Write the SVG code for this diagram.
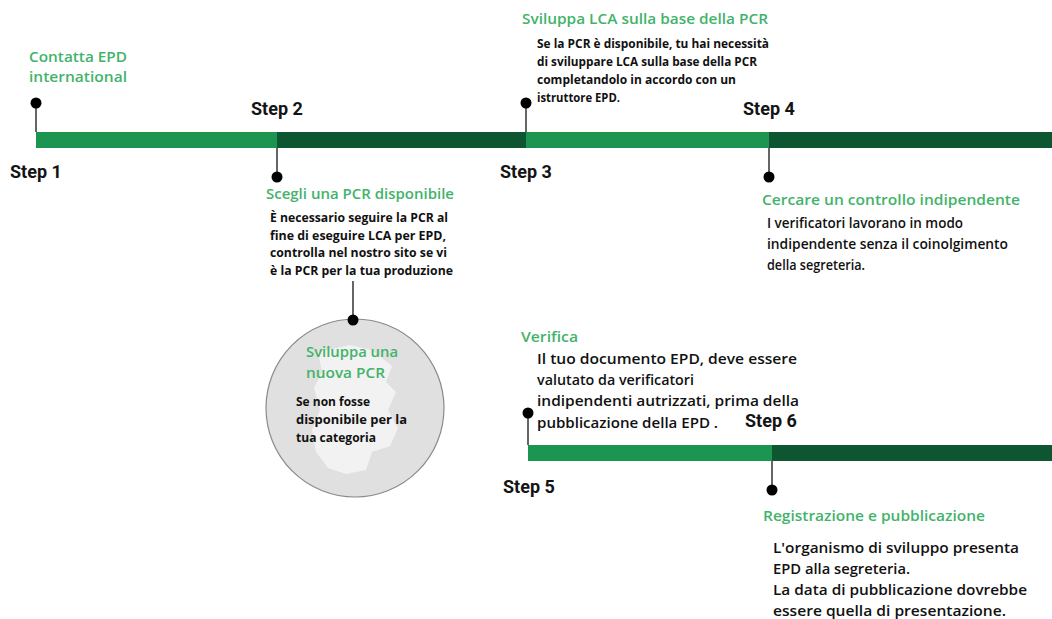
<svg xmlns="http://www.w3.org/2000/svg" width="1052" height="619" viewBox="0 0 1052 619">
<style>
.step{font-family:Roboto,"Liberation Sans",sans-serif;font-weight:700;font-size:18px;fill:#141414}
.head{font-family:"Open Sans","Liberation Sans",sans-serif;font-weight:600;font-size:14px;fill:#42b36a}
.body{font-family:"Open Sans","Liberation Sans",sans-serif;font-weight:700;font-size:12px;fill:#111}
.bodyL{font-family:"Open Sans","Liberation Sans",sans-serif;font-weight:600;font-size:14.5px;fill:#111}
.light{fill:#1b9550}
.dark{fill:#0e5531}
.stem{stroke:#333;stroke-width:1.5}
.dot{fill:#000}
</style>
<rect width="1052" height="619" fill="#fff"/>
<g id="timeline">
<rect class="light" x="36" y="132" width="241" height="16"/>
<rect class="dark" x="277" y="132" width="249" height="16"/>
<rect class="light" x="526" y="132" width="243" height="16"/>
<rect class="dark" x="769" y="132" width="283" height="16"/>
<rect class="light" x="528" y="445" width="244" height="16"/>
<rect class="dark" x="772" y="445" width="280" height="16"/>
</g>
<g id="connectors">
<line class="stem" x1="36" y1="103" x2="36" y2="132"/>
<circle class="dot" cx="36" cy="103" r="5.5"/>
<line class="stem" x1="277" y1="148" x2="277" y2="177"/>
<circle class="dot" cx="277" cy="177" r="5.5"/>
<line class="stem" x1="526" y1="103" x2="526" y2="132"/>
<circle class="dot" cx="526" cy="103" r="5.5"/>
<line class="stem" x1="769" y1="148" x2="769" y2="177"/>
<circle class="dot" cx="769" cy="177" r="5.5"/>
<line class="stem" x1="353" y1="281" x2="353" y2="320"/>
<line class="stem" x1="528" y1="413" x2="528" y2="445"/>
<circle class="dot" cx="528" cy="413" r="5.5"/>
<line class="stem" x1="772" y1="461" x2="772" y2="490"/>
<circle class="dot" cx="772" cy="490" r="5.5"/>
</g>
<g id="step1">
<text class="head" x="29" y="62" textLength="98" lengthAdjust="spacingAndGlyphs">Contatta EPD</text>
<text class="head" x="29" y="82" textLength="98" lengthAdjust="spacingAndGlyphs">international</text>
<text class="step" x="10" y="178">Step 1</text>
</g>
<g id="step2">
<text class="step" x="251" y="115">Step 2</text>
<text class="head" x="266" y="199" textLength="188" lengthAdjust="spacingAndGlyphs">Scegli una PCR disponibile</text>
<text class="body" x="270" y="222" textLength="178" lengthAdjust="spacingAndGlyphs">È necessario seguire la PCR al</text>
<text class="body" x="270" y="240" textLength="176" lengthAdjust="spacingAndGlyphs">fine di eseguire LCA per EPD,</text>
<text class="body" x="270" y="257" textLength="177" lengthAdjust="spacingAndGlyphs">controlla nel nostro sito se vi</text>
<text class="body" x="270" y="275" textLength="183" lengthAdjust="spacingAndGlyphs">è la PCR per la tua produzione</text>
</g>
<g id="new-pcr">
<circle cx="355" cy="408" r="89" fill="#e0e0e0" stroke="#8a8a8a" stroke-width="1.2"/>
<path d="M318 352 L350 345 L372 350 L392 366 L386 382 L396 392 L388 410 L398 428 L390 446 L372 452 L366 470 L346 474 L328 468 L316 452 L312 430 L320 410 L314 388 L322 372 Z" fill="#f6f6f6" opacity="0.8"/>
<circle class="dot" cx="353" cy="320" r="5.5"/>
<text class="head" x="306" y="357" textLength="92" lengthAdjust="spacingAndGlyphs">Sviluppa una</text>
<text class="head" x="306" y="378" textLength="79" lengthAdjust="spacingAndGlyphs">nuova PCR</text>
<text class="body" x="296" y="406" textLength="74" lengthAdjust="spacingAndGlyphs">Se non fosse</text>
<text class="body" x="296" y="424" textLength="111" lengthAdjust="spacingAndGlyphs">disponibile per la</text>
<text class="body" x="296" y="442" textLength="80" lengthAdjust="spacingAndGlyphs">tua categoria</text>
</g>
<g id="step3">
<text class="step" x="500" y="178">Step 3</text>
<text class="head" x="522" y="24" textLength="246" lengthAdjust="spacingAndGlyphs">Sviluppa LCA sulla base della PCR</text>
<text class="body" x="537" y="48" textLength="232" lengthAdjust="spacingAndGlyphs">Se la PCR è disponibile, tu hai necessità</text>
<text class="body" x="537" y="66" textLength="220" lengthAdjust="spacingAndGlyphs">di sviluppare LCA sulla base della PCR</text>
<text class="body" x="537" y="84" textLength="199" lengthAdjust="spacingAndGlyphs">completandolo in accordo con un</text>
<text class="body" x="537" y="102" textLength="83" lengthAdjust="spacingAndGlyphs">istruttore EPD.</text>
</g>
<g id="step4">
<text class="step" x="743" y="115">Step 4</text>
<text class="head" x="762" y="205" textLength="258" lengthAdjust="spacingAndGlyphs">Cercare un controllo indipendente</text>
<text class="bodyL" x="767" y="228" textLength="196" lengthAdjust="spacingAndGlyphs">I verificatori lavorano in modo</text>
<text class="bodyL" x="767" y="249" textLength="241" lengthAdjust="spacingAndGlyphs">indipendente senza il coinolgimento</text>
<text class="bodyL" x="767" y="270" textLength="98" lengthAdjust="spacingAndGlyphs">della segreteria.</text>
</g>
<g id="step5">
<text class="step" x="503" y="493">Step 5</text>
<text class="head" x="521" y="342" textLength="57" lengthAdjust="spacingAndGlyphs">Verifica</text>
<text class="bodyL" x="537" y="364" textLength="260" lengthAdjust="spacingAndGlyphs">Il tuo documento EPD, deve essere</text>
<text class="bodyL" x="537" y="385" textLength="157" lengthAdjust="spacingAndGlyphs">valutato da verificatori</text>
<text class="bodyL" x="537" y="406" textLength="262" lengthAdjust="spacingAndGlyphs">indipendenti autrizzati, prima della</text>
<text class="bodyL" x="537" y="428" textLength="181" lengthAdjust="spacingAndGlyphs">pubblicazione della EPD .</text>
</g>
<g id="step6">
<text class="step" x="745" y="427">Step 6</text>
<text class="head" x="763" y="521" textLength="222" lengthAdjust="spacingAndGlyphs">Registrazione e pubblicazione</text>
<text class="bodyL" x="773" y="553" textLength="246" lengthAdjust="spacingAndGlyphs">L'organismo di sviluppo presenta</text>
<text class="bodyL" x="773" y="574" textLength="137" lengthAdjust="spacingAndGlyphs">EPD alla segreteria.</text>
<text class="bodyL" x="773" y="595" textLength="254" lengthAdjust="spacingAndGlyphs">La data di pubblicazione dovrebbe</text>
<text class="bodyL" x="773" y="616" textLength="233" lengthAdjust="spacingAndGlyphs">essere quella di presentazione.</text>
</g>
</svg>
